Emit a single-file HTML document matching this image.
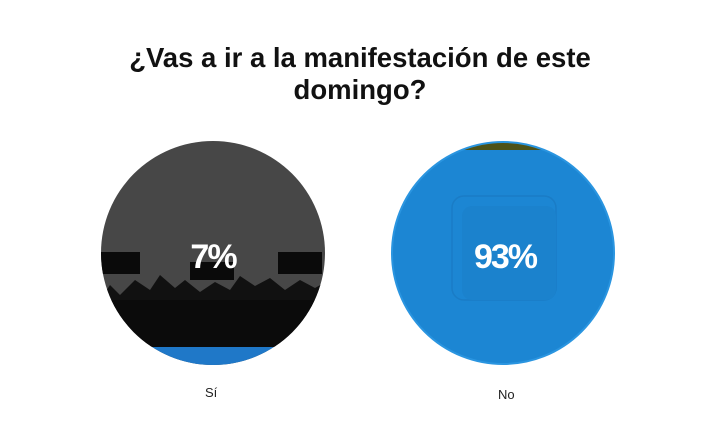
<!DOCTYPE html>
<html><head><meta charset="utf-8"><style>
body{margin:0;width:720px;height:426px;background:#fff;overflow:hidden;font-family:"Liberation Sans",sans-serif;position:relative}
.t{position:absolute;left:0;width:720px;text-align:center;font-weight:bold;font-size:27.5px;color:#111;line-height:32px;top:42px}
.l{position:absolute;font-size:13px;color:#222}
</style></head><body>
<div class="t">¿Vas a ir a la manifestación de este<br>domingo?</div>
<svg width="720" height="426" style="position:absolute;left:0;top:0">
<defs>
<clipPath id="c1"><circle cx="213" cy="253" r="112"/></clipPath>
<clipPath id="c2"><circle cx="503" cy="253" r="111"/></clipPath>
</defs>
<g clip-path="url(#c1)">
<rect x="100" y="140" width="226" height="230" fill="#474747"/>
<rect x="100" y="252" width="40" height="22" fill="#0a0a0a"/>
<rect x="190" y="262" width="44" height="18" fill="#0a0a0a"/>
<rect x="278" y="252" width="44" height="22" fill="#0a0a0a"/>
<path d="M100 300 L110 285 L120 295 L135 280 L150 290 L160 275 L175 288 L185 280 L200 292 L215 282 L230 290 L240 276 L255 286 L270 278 L285 290 L300 280 L315 288 L326 282 L326 347 L100 347Z" fill="#111"/>
<rect x="100" y="300" width="226" height="47" fill="#0b0b0b"/>
<rect x="100" y="347" width="226" height="25" fill="#1f78c8"/>
</g>
<g clip-path="url(#c2)">
<rect x="390" y="140" width="226" height="230" fill="#1c86d3"/>
<rect x="390" y="140" width="226" height="10" fill="#4d5218"/>
<rect x="452" y="196" width="104" height="104" rx="12" fill="none" stroke="#1a7cc6" stroke-width="1.5"/>
<rect x="462" y="206" width="94" height="94" rx="10" fill="#1b82cd"/>
</g>
<circle cx="503" cy="253" r="111" fill="none" stroke="#2a95e0" stroke-width="2"/>
<text x="213" y="268" text-anchor="middle" font-family="Liberation Sans" font-weight="bold" font-size="34" fill="#fff" letter-spacing="-2">7%</text>
<text x="505" y="268" text-anchor="middle" font-family="Liberation Sans" font-weight="bold" font-size="34" fill="#fff" letter-spacing="-2">93%</text>
</svg>
<div class="l" style="left:205px;top:385px">Sí</div>
<div class="l" style="left:498px;top:387px">No</div>
</body></html>
